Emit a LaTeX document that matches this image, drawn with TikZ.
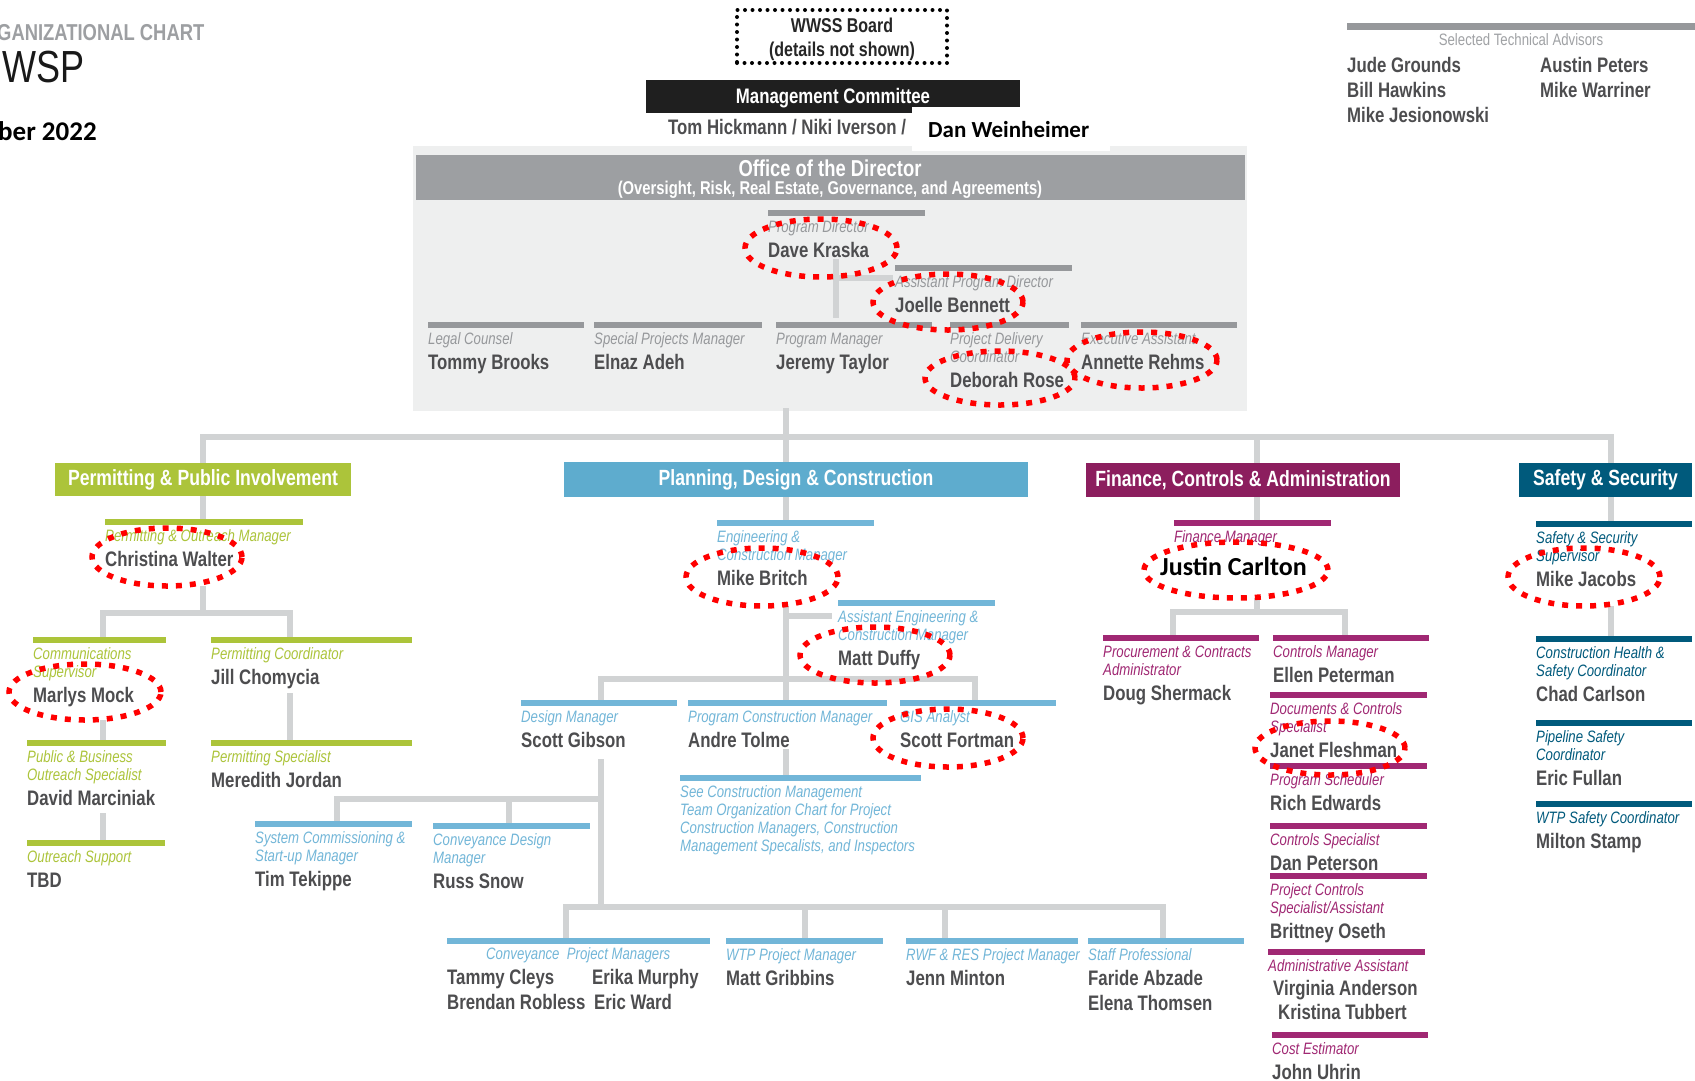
\documentclass[tikz,border=0pt]{standalone}
\usepackage{fontspec}
\setmainfont{Liberation Sans}[FakeStretch=0.8]
\newfontfamily\calib{Carlito}
\usetikzlibrary{shapes.geometric}
\pgfdeclarelayer{panel}
\pgfdeclarelayer{back}
\pgfsetlayers{panel,back,main}

\definecolor{conn}{RGB}{209,211,212}
\definecolor{namegray}{RGB}{77,77,79}
\definecolor{panelgray}{RGB}{238,239,239}
\definecolor{offhead}{RGB}{157,159,162}
\definecolor{offbar}{RGB}{150,152,155}
\definecolor{offlab}{RGB}{160,162,165}
\definecolor{pgreen}{RGB}{172,196,58}
\definecolor{pblue}{RGB}{114,182,216}
\definecolor{pdcblue}{RGB}{94,172,206}
\definecolor{fpurple}{RGB}{140,30,94}
\definecolor{ppurple}{RGB}{160,40,115}
\definecolor{steal}{RGB}{0,90,124}
\definecolor{ringred}{RGB}{255,0,0}

\tikzset{
  bar/.style={anchor=north west, inner sep=0pt, minimum height=6pt},
  lab/.style={anchor=base west, inner sep=0pt, font=\fontsize{16.5}{18}\selectfont\itshape},
  who/.style={anchor=base west, inner sep=0pt, text=namegray, font=\fontsize{21}{25}\selectfont\bfseries},
  dept/.style={inner sep=0pt, text=white, font=\fontsize{22}{26}\selectfont\bfseries},
  ring/.style={ellipse, draw=ringred, line width=5.5pt, dash pattern=on 6pt off 8pt, inner sep=0pt},
  wire/.style={draw=conn, line width=6pt, line cap=rect},
}

% #1 name, #2 x, #3 top of bar, #4 bar width, #5 colour, #6 title lines, #7 people
\newcommand\role[7]{%
  \node[bar, fill=#5, minimum width=#4] (#1) at (#2,#3) {};
  \gdef\nlab{0}%
  \foreach \t [count=\i] in {#6} {
    \node[lab, text=#5] (#1-l\i) at (#2,#3+4+18*\i) {\t};
    \xdef\nlab{\i}
  }
  \def\tmp{#7}%
  \ifx\tmp\empty\else
    \foreach \t [count=\j] in {#7}
      \node[who] (#1-n\j) at (#2,#3+18*\nlab+25*\j+4.5) {\t};
  \fi
}

\begin{document}
\begin{tikzpicture}[x=1pt, y=-1pt]
				%%%%% FRAME %%%%%
				\useasboundingbox (0,0) rectangle (1695,1080);
				\begin{pgfonlayer}{panel}
				\fill[white] (0,0) rectangle (1695,1080);
				\node[fill=panelgray, anchor=north west, inner sep=0pt, minimum width=834, minimum height=265] (office) at (413,146) {};
				\end{pgfonlayer}
				
				%%%%% TITLE %%%%%
				\node[anchor=base west, inner sep=0pt, text=offhead, font=\fontsize{23}{26}\selectfont\bfseries] (title) at (-3,40) {GANIZATIONAL CHART};
				\node[anchor=base west, inner sep=0pt, text=black!90, font=\fontsize{45}{48}\selectfont] (wsp) at (2,82) {WSP};
				\node[anchor=base west, inner sep=0pt, font=\calib\fontsize{27}{31}\selectfont\bfseries] (date) at (-2,140) {ber 2022};
				
				%%%%% BOARD AND COMMITTEE %%%%%
				\node[draw=black, line width=4pt, dash pattern=on 0pt off 7.5pt, line cap=round, minimum width=210, minimum height=53, inner sep=0pt] (board) at (842,36.5) {};
				\node[inner sep=0pt, text=black!85, font=\fontsize{20}{24}\selectfont\bfseries] (board-t) at (842,25) {WWSS Board};
				\node[inner sep=0pt, text=black!85, font=\fontsize{20}{24}\selectfont\bfseries] (board-s) at (842,51) {(details not shown)};
				
				\node[fill=black!88, anchor=north west, inner sep=0pt, minimum width=374, minimum height=33] (mc) at (646,80) {};
				\node[dept, font=\fontsize{21}{25}\selectfont\bfseries] (mc-t) at (833,98) {Management Committee};
				\fill[white] (912,107) rectangle (1110,151);
				\node[who] (mc-a) at (668,134.5) {Tom Hickmann / Niki Iverson /};
				\node[anchor=base west, inner sep=0pt, font=\calib\fontsize{23}{27}\selectfont\bfseries] (mc-b) at (928,137.5) {Dan Weinheimer};
				
				%%%%% ADVISORS %%%%%
				\node[bar, fill=offbar, minimum width=348, minimum height=7] (adv) at (1347,23) {};
				\node[inner sep=0pt, text=offlab, font=\fontsize{16.5}{18}\selectfont] (adv-t) at (1521,40) {Selected Technical Advisors};
				\node[who] (adv-1) at (1347,72.5) {Jude Grounds};
				\node[who] (adv-2) at (1347,97.5) {Bill Hawkins};
				\node[who] (adv-3) at (1347,122.5) {Mike Jesionowski};
				\node[who] (adv-4) at (1540,72.5) {Austin Peters};
				\node[who] (adv-5) at (1540,97.5) {Mike Warriner};
				
				%%%%% OFFICE OF THE DIRECTOR %%%%%
				\node[fill=offhead, anchor=north west, inner sep=0pt, minimum width=829, minimum height=45] (odir) at (416,155) {};
				\node[dept, font=\fontsize{23}{26}\selectfont\bfseries] (odir-t) at (830,168) {Office of the Director};
				\node[dept, font=\fontsize{18.5}{20}\selectfont\bfseries] (odir-s) at (830,190) {(Oversight, Risk, Real Estate, Governance, and Agreements)};
				
				\role{dk}{768}{210}{157}{offbar}{Program Director}{Dave Kraska}
				\role{jb}{895}{265}{177}{offbar}{Assistant Program Director}{Joelle Bennett}
				\role{tb}{428}{322}{156}{offbar}{Legal Counsel}{Tommy Brooks}
				\role{ea}{594}{322}{168}{offbar}{Special Projects Manager}{Elnaz Adeh}
				\role{jt}{776}{322}{156}{offbar}{Program Manager}{Jeremy Taylor}
				\role{dr}{950}{322}{119}{offbar}{Project Delivery,Coordinator}{Deborah Rose}
				\role{ar}{1081}{322}{156}{offbar}{Executive Assistant}{Annette Rehms}
				
				%%%%% DEPARTMENTS %%%%%
				\node[dept, fill=pgreen, minimum width=296, minimum height=33] (ppi) at (203,479.5) {Permitting \& Public Involvement};
				\node[dept, fill=pdcblue, minimum width=464, minimum height=35] (pdc) at (796,479.5) {Planning, Design \& Construction};
				\node[dept, fill=fpurple, minimum width=314, minimum height=34] (fca) at (1243,480) {Finance, Controls \& Administration};
				\node[dept, fill=steal, minimum width=173, minimum height=34] (sas) at (1605.5,480) {Safety \& Security};
				
				%%%%% PERMITTING %%%%%
				\role{cw}{105}{519}{198}{pgreen}{Permitting \& Outreach Manager}{Christina Walter}
				\role{mm}{33}{637}{133}{pgreen}{Communications,Supervisor}{Marlys Mock}
				\role{jc}{211}{637}{201}{pgreen}{Permitting Coordinator}{Jill Chomycia}
				\role{dm}{27}{740}{139}{pgreen}{Public \& Business,Outreach Specialist}{David Marciniak}
				\role{ms}{211}{740}{201}{pgreen}{Permitting Specialist}{Meredith Jordan}
				\role{tbd}{27}{840}{138}{pgreen}{Outreach Support}{TBD}
				
				%%%%% PLANNING %%%%%
				\role{mb}{717}{520}{157}{pblue}{Engineering \&,Construction Manager}{Mike Britch}
				\role{md}{838}{600}{157}{pblue}{Assistant Engineering \&,Construction Manager}{Matt Duffy}
				\role{sg}{521}{700}{156}{pblue}{Design Manager}{Scott Gibson}
				\role{at}{688}{700}{199}{pblue}{Program Construction Manager}{Andre Tolme}
				\role{sf}{900}{700}{156}{pblue}{GIS Analyst}{Scott Fortman}
				\role{see}{680}{775}{241}{pblue}{See Construction Management,Team Organization Chart for Project,{Construction Managers, Construction},{Management Specalists, and Inspectors}}{}
				\role{tt}{255}{821}{157}{pblue}{System Commissioning \&,Start-up Manager}{Tim Tekippe}
				\role{rs}{433}{823}{157}{pblue}{Conveyance Design,Manager}{Russ Snow}
				\role{mg}{726}{938}{157}{pblue}{WTP Project Manager}{Matt Gribbins}
				\role{jm}{906}{938}{172}{pblue}{RWF \& RES Project Manager}{Jenn Minton}
				\role{fa}{1088}{938}{156}{pblue}{Staff Professional}{Faride Abzade,Elena Thomsen}
				\node[bar, fill=pblue, minimum width=263] (cpm) at (447,938) {};
				\node[lab, text=pblue] (cpm-l) at (486,959) {Conveyance\ \ Project Managers};
				\node[who] (cpm-1) at (447,984.5) {Tammy Cleys};
				\node[who] (cpm-2) at (447,1009.5) {Brendan Robless};
				\node[who] (cpm-3) at (592,984.5) {Erika Murphy};
				\node[who] (cpm-4) at (594,1009.5) {Eric Ward};
				
				%%%%% FINANCE %%%%%
				\role{fm}{1174}{520}{157}{ppurple}{Finance Manager}{}
				\node[anchor=base west, inner sep=0pt, font=\calib\fontsize{26}{30}\selectfont\bfseries] (fm-n1) at (1160,575.5) {Justin Carlton};
				\role{ds}{1103}{635}{156}{ppurple}{Procurement \& Contracts,Administrator}{Doug Shermack}
				\role{ep}{1273}{635}{156}{ppurple}{Controls Manager}{Ellen Peterman}
				\role{jf}{1270}{692}{157}{ppurple}{Documents \& Controls,Specialist}{Janet Fleshman}
				\role{re}{1270}{763}{157}{ppurple}{Program Scheduler}{Rich Edwards}
				\role{dp}{1270}{823}{157}{ppurple}{Controls Specialist}{Dan Peterson}
				\role{bo}{1270}{873}{157}{ppurple}{Project Controls,Specialist/Assistant}{Brittney Oseth}
				\role{va}{1268}{949}{157}{ppurple}{Administrative Assistant}{}
				\node[who] (va-n1) at (1273,995.5) {Virginia Anderson};
				\node[who] (va-n2) at (1278,1019.5) {Kristina Tubbert};
				\role{ju}{1272}{1032}{156}{ppurple}{Cost Estimator}{John Uhrin}
				
				%%%%% SAFETY %%%%%
				\role{mj}{1536}{521}{156}{steal}{Safety \& Security,Supervisor}{Mike Jacobs}
				\role{cc}{1536}{636}{156}{steal}{Construction Health \&,Safety Coordinator}{Chad Carlson}
				\role{ef}{1536}{720}{156}{steal}{Pipeline Safety,Coordinator}{Eric Fullan}
				\role{mst}{1536}{801}{156}{steal}{WTP Safety Coordinator}{Milton Stamp}
				
				%%%%% RINGS %%%%%
				\node[ring, minimum width=152, minimum height=58] (dk-o) at (821,248) {};
				\node[ring, minimum width=150, minimum height=56] (jb-o) at (948,302) {};
				\node[ring, minimum width=150, minimum height=54] (dr-o) at (1000,378) {};
				\node[ring, minimum width=150, minimum height=56] (ar-o) at (1142,360) {};
				\node[ring, minimum width=150, minimum height=58] (cw-o) at (167,557) {};
				\node[ring, minimum width=152, minimum height=56] (mm-o) at (85,692) {};
				\node[ring, minimum width=152, minimum height=58] (mb-o) at (762,577) {};
				\node[ring, minimum width=150, minimum height=56] (md-o) at (875,655) {};
				\node[ring, minimum width=150, minimum height=58] (sf-o) at (948,738) {};
				\node[ring, minimum width=184, minimum height=56] (fm-o) at (1236,570) {};
				\node[ring, minimum width=150, minimum height=54] (jf-o) at (1330,748) {};
				\node[ring, minimum width=152, minimum height=58] (mj-o) at (1584,577) {};
				
				%%%%% CONNECTORS %%%%%
				\coordinate (o-a) at (836,262);
				\coordinate (o-b) at (836,315);
				\coordinate (o-c) at (890,278);
				\coordinate (gx) at (203,437);
				\coordinate (bx) at (786,437);
				\coordinate (px) at (1257,437);
				\coordinate (sx) at (1611,437);
				\coordinate (g-a) at (103,613);
				\coordinate (g-b) at (290,613);
				\coordinate (b-a) at (829,616);
				\coordinate (b-l) at (601,679);
				\coordinate (b-r) at (975,679);
				\coordinate (b-c) at (337,799);
				\coordinate (b-d) at (509,799);
				\coordinate (b-e) at (566,907);
				\coordinate (b-f) at (1163,907);
				\coordinate (b-g) at (945,907);
				\coordinate (p-a) at (1173,612);
				\coordinate (p-b) at (1345,612);
				\begin{pgfonlayer}{back}
				\draw[wire] (o-a) -- (o-b);
				\draw[wire] (o-a |- o-c) -- (o-c);
				
				\draw[wire] (gx) -- (sx);
				\draw[wire] (gx) -- (gx |- cw.north);
				\draw[wire] (office.south -| bx) -- (bx |- mb.north);
				\draw[wire] (px) -- (px |- fm.north);
				\draw[wire] (sx) -- (sx |- mj.north);
				
				\draw[wire] (gx |- cw-o.south) -- (gx |- g-a);
				\draw[wire] (g-a |- mm.north) |- (g-b) -- (g-b |- jc.north);
				\draw[wire] (g-a |- mm-o.south) -- (g-a |- dm.north);
				\draw[wire, shorten <=10pt] (g-a |- dm-n1.south) -- (g-a |- tbd.north);
				\draw[wire, shorten <=7pt] (g-b |- jc-n1.south) -- (g-b |- ms.north);
				
				\draw[wire] (bx |- mb-o.south) -- (bx |- at.north);
				\draw[wire] (bx |- b-a) -- (b-a);
				\draw[wire] (b-l |- sg.north) |- (b-r) -- (b-r |- sf.north);
				\draw[wire, shorten <=4pt] (bx |- at-n1.south) -- (bx |- see.north);
				\draw[wire, shorten <=14pt] (b-l |- sg-n1.south) -- (b-l |- b-e);
				\draw[wire] (b-c |- tt.north) |- (b-l |- b-c);
				\draw[wire] (b-d) -- (b-d |- rs.north);
				\draw[wire] (b-e |- cpm.north) |- (b-f) -- (b-f |- fa.north);
				\draw[wire] (mg.north) -- (mg.north |- b-e);
				\draw[wire] (b-g) -- (b-g |- jm.north);
				
				\draw[wire] (px |- fm-o.south) -- (px |- p-a);
				\draw[wire] (p-a |- ds.north) |- (p-b) -- (p-b |- ep.north);
				
				\draw[wire] (sx |- mj-o.south) -- (sx |- cc.north);
				\end{pgfonlayer}
				%%%%% END %%%%%
\end{tikzpicture}
\end{document}
